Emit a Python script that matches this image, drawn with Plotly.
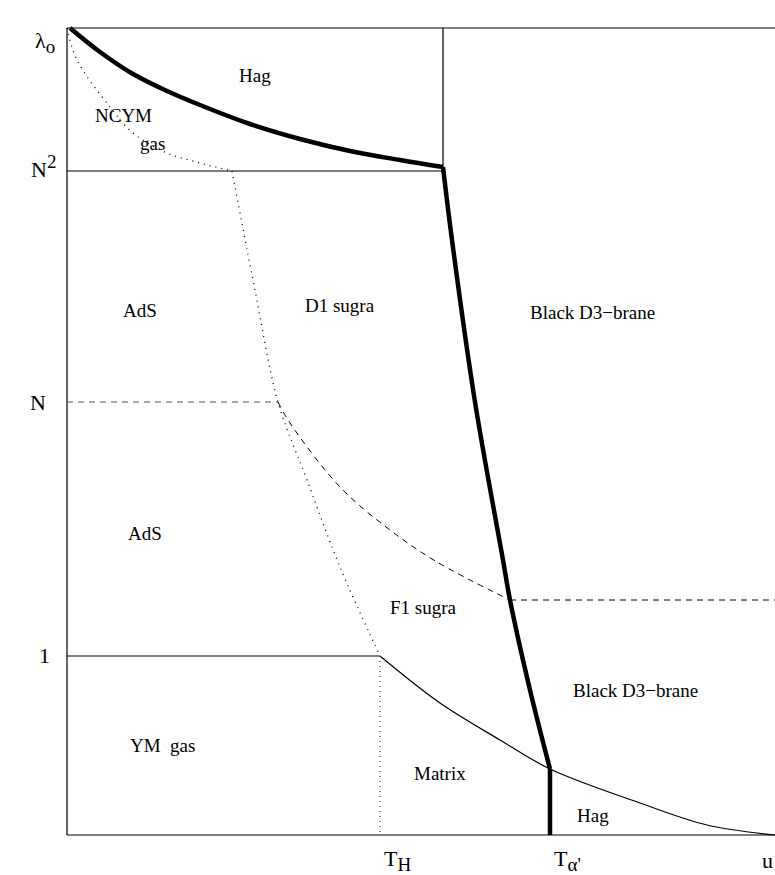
import plotly.graph_objects as go

# Frame (plot units follow the drawing area)
X0, X1 = 67, 775
Y_TOP, Y_BOT = 28, 835
Y_N2, Y_N, Y_1, Y_DASH = 171, 402, 656, 600
X_TH, X_TA, X_MID = 380, 550, 443

# Thick Hagedorn curve (top)
hag_top_x = [70, 100, 133, 167, 200, 250, 300, 350, 400, 443]
hag_top_y = [28, 52, 74, 91, 105, 124, 139, 151, 160, 167]
# Thick transition line (down to T_alpha')
thick_x = [443, 452, 475, 503, 510, 530, 550]
thick_y = [167, 240, 402, 560, 600, 690, 769]
# Upper dotted curve
dot1_x = [67, 77, 110, 133, 167, 200, 232]
dot1_y = [28, 60, 107, 133, 153, 163, 171]
# Dotted curve N^2 -> 1
dot2_x = [232, 255, 278, 307, 340, 380]
dot2_y = [171, 290, 402, 480, 567, 656]
# Dashed curve
dash_x = [278, 290, 340, 390, 437, 510]
dash_y = [402, 423, 487, 530, 562, 600]
# Thin curve bottom
thin_x = [380, 440, 500, 550, 640, 707, 775]
thin_y = [656, 703, 740, 769, 803, 825, 835]

region_labels = ["Hag", "NCYM", "gas", "AdS", "D1 sugra", "Black D3\u2212brane",
                 "AdS", "F1 sugra", "Black D3\u2212brane", "YM  gas", "Matrix", "Hag"]
region_x = [255, 123, 152, 140, 340, 592, 145, 423, 635, 162, 440, 593]
region_y = [75, 115, 143, 310, 305, 312, 533, 607, 690, 745, 773, 815]

S = "<span style='font-size:19px'>"
tick_labels = ["\u03bb<sub>" + S + "o</span></sub>", "N<sup>" + S + "2</span></sup>", "N", "1"]
tick_y = [42, 166, 402, 655]
tick_x = [45, 43, 38, 44]

xlab = ["T<sub>" + S + "H</span></sub>", "T<sub>" + S + "\u03b1'</span></sub>", "u"]
xlab_x = [397, 567, 767]

fig = go.Figure()

def add(x, y, width=1.2, dash="solid", color="black", shape="linear"):
    fig.add_trace(go.Scatter(x=x, y=y, mode="lines",
                             line=dict(color=color, width=width, dash=dash, shape=shape),
                             hoverinfo="skip", showlegend=False))

# frame
add([X0, X1], [Y_TOP, Y_TOP])
add([X0, X0], [Y_TOP, Y_BOT])
add([X0, X1], [Y_BOT, Y_BOT])
add([X_MID, X_MID], [Y_TOP, Y_N2])
add([X0, X_MID], [Y_N2, Y_N2])
add([X0, X_TH], [Y_1, Y_1])
add([X0, dot2_x[2]], [Y_N, Y_N], dash="6px,5px", color="#555")
add([dash_x[-1], X1], [Y_DASH, Y_DASH], dash="6px,5px", width=1)
# curves
add(thin_x, thin_y, shape="spline")
add(dash_x, dash_y, dash="6px,5px", width=1, shape="spline")
add(dot1_x, dot1_y, dash="1px,5px", width=1.3, shape="spline")
add(dot2_x, dot2_y, dash="1px,5px", width=1.3, shape="spline")
add([X_TH, X_TH], [Y_1, Y_BOT], dash="1px,4px", width=1.3, color="#444")
add(hag_top_x, hag_top_y, width=4.5, shape="spline")
add(thick_x, thick_y, width=4.5, shape="spline")
add([X_TA, X_TA], [thick_y[-1], Y_BOT], width=4.5)

font = dict(family="Liberation Serif", size=19, color="black")
big = dict(family="Liberation Serif", size=22, color="black")
for t, x, y in zip(region_labels, region_x, region_y):
    fig.add_annotation(x=x, y=y, text=t, showarrow=False, font=font)
for t, x, y in zip(tick_labels, tick_x, tick_y):
    fig.add_annotation(x=x, y=y, text=t, showarrow=False, font=big)
for t, x in zip(xlab, xlab_x):
    fig.add_annotation(x=x, y=860, text=t, showarrow=False, font=big)

fig.update_layout(width=775, height=875, margin=dict(l=0, r=0, t=0, b=0),
                  plot_bgcolor="white", paper_bgcolor="white", hovermode=False)
fig.update_xaxes(range=[0, 775], visible=False, fixedrange=True)
fig.update_yaxes(range=[875, 0], visible=False, fixedrange=True)
fig.write_html("out.html", config={"displayModeBar": False, "staticPlot": True},
               post_script="document.body.style.margin='0';document.body.style.overflow='hidden';")
